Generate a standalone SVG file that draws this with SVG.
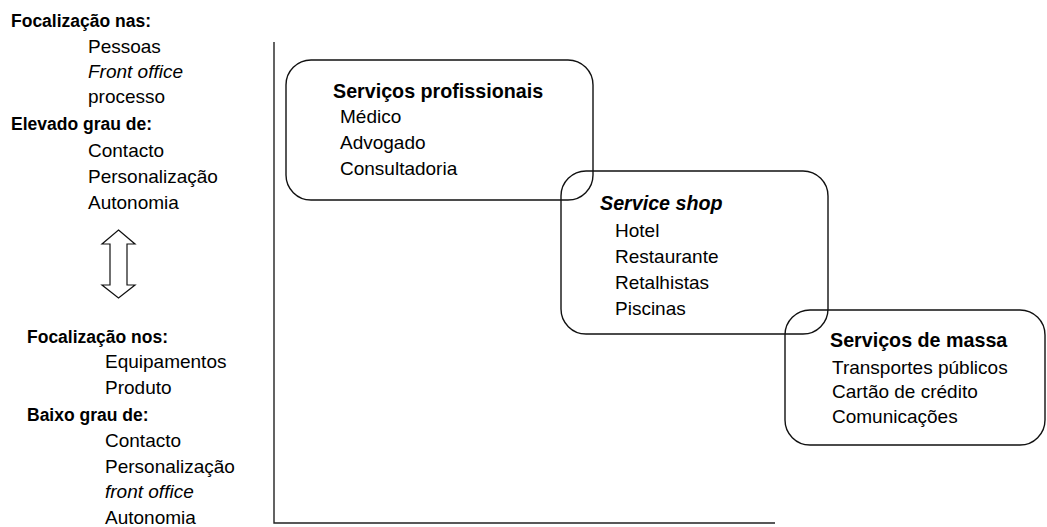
<svg xmlns="http://www.w3.org/2000/svg" width="1047" height="527" viewBox="0 0 1047 527">
  <style>
    text { font-family: "Liberation Sans", Arial, sans-serif; fill: #000; }
    .item { font-size: 19px; }
    .label { font-size: 17.5px; font-weight: bold; }
    .title { font-size: 19.7px; font-weight: bold; }
    .it { font-style: italic; }
    .box { fill: none; stroke: #111; stroke-width: 1.4; }
    .axis { fill: none; stroke: #222; stroke-width: 1.4; }
    .dbl { fill: #fff; stroke: #111; stroke-width: 1.2; stroke-linejoin: miter; }
  </style>

  <rect width="1047" height="527" fill="#fff"/>

  <!-- axes -->
  <g id="connectors">
    <polyline class="axis" points="274,42 274,523 775,523"/>
    <polygon id="double-arrow" class="dbl" points="118.5,230 135,244 127,244 127,285 135,285 118.5,298 102,285 110,285 110,244 102,244"/>
  </g>

  <!-- left legend: high contact -->
  <g id="legend-high">
    <text class="label" x="11" y="27">Focalização nas:</text>
    <text class="item" x="88" y="53">Pessoas</text>
    <text class="item it" x="88" y="78">Front office</text>
    <text class="item" x="88" y="103">processo</text>
    <text class="label" x="11" y="130">Elevado grau de:</text>
    <text class="item" x="88" y="157">Contacto</text>
    <text class="item" x="88" y="183">Personalização</text>
    <text class="item" x="88" y="209">Autonomia</text>
  </g>

  <!-- left legend: low contact -->
  <g id="legend-low">
    <text class="label" x="27" y="343">Focalização nos:</text>
    <text class="item" x="105" y="368">Equipamentos</text>
    <text class="item" x="105" y="394">Produto</text>
    <text class="label" x="27" y="421">Baixo grau de:</text>
    <text class="item" x="105" y="447">Contacto</text>
    <text class="item" x="105" y="473">Personalização</text>
    <text class="item it" x="105" y="498">front office</text>
    <text class="item" x="105" y="524">Autonomia</text>
  </g>

  <!-- service categories -->
  <g id="servicos-profissionais">
    <rect class="box" x="286" y="60" width="307" height="140" rx="25" ry="25"/>
    <text class="title" x="333" y="98">Serviços profissionais</text>
    <text class="item" x="340" y="123">Médico</text>
    <text class="item" x="340" y="149">Advogado</text>
    <text class="item" x="340" y="175">Consultadoria</text>
  </g>

  <g id="service-shop">
    <rect class="box" x="561" y="171" width="267" height="163" rx="25" ry="25"/>
    <text class="title it" x="600" y="210">Service shop</text>
    <text class="item" x="615" y="237">Hotel</text>
    <text class="item" x="615" y="263">Restaurante</text>
    <text class="item" x="615" y="289">Retalhistas</text>
    <text class="item" x="615" y="315">Piscinas</text>
  </g>

  <g id="servicos-de-massa">
    <rect class="box" x="785" y="310" width="260" height="135" rx="25" ry="25"/>
    <text class="title" x="830" y="347">Serviços de massa</text>
    <text class="item" x="832" y="374">Transportes públicos</text>
    <text class="item" x="832" y="398">Cartão de crédito</text>
    <text class="item" x="832" y="423">Comunicações</text>
  </g>
</svg>
